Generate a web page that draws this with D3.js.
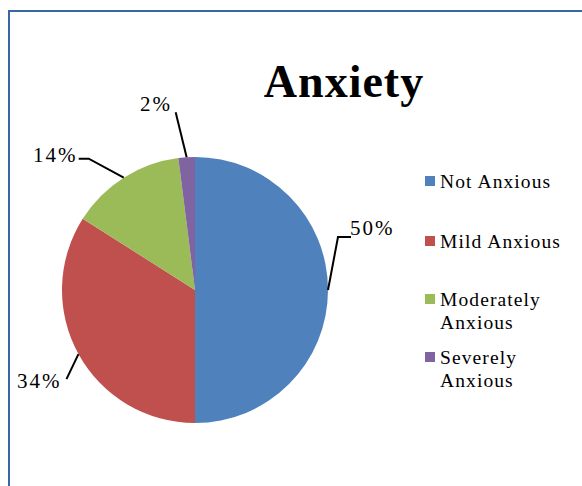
<!DOCTYPE html>
<html><head><meta charset="utf-8">
<script src="https://cdn.jsdelivr.net/npm/d3@7"></script>
<style>body{margin:0;background:#fff}svg{display:block}</style>
</head><body>
<script>
const categories = ["Not Anxious", "Mild Anxious", "Moderately Anxious", "Severely Anxious"];
const values = [50, 34, 14, 2];
const labels = ["50%", "34%", "14%", "2%"];
const colors = ["#4f81bd", "#c0504d", "#9bbb59", "#8064a2"];
const legendLines = [["Not Anxious"], ["Mild Anxious"], ["Moderately", "Anxious"], ["Severely", "Anxious"]];

const FONT = "'Liberation Serif', 'Times New Roman', serif";
const W = 582, H = 486;
const svg = d3.select("body").append("svg").attr("width", W).attr("height", H);
svg.append("rect").attr("x", 9).attr("y", 11).attr("width", 600).attr("height", 500)
  .attr("fill", "#fff").attr("stroke", "#3a67a3").attr("stroke-width", 2);

svg.append("text").attr("x", 344).attr("y", 97).attr("text-anchor", "middle")
  .attr("font-family", FONT).attr("font-weight", "bold").attr("font-size", 46)
  .attr("letter-spacing", 1)
  .text("Anxiety");

const cx = 195, cy = 290, r = 133;
const pie = d3.pie().sort(null).value(d => d)(values);
const arc = d3.arc().innerRadius(0).outerRadius(r);
const g = svg.append("g").attr("transform", `translate(${cx},${cy})`);
g.selectAll("path").data(pie).join("path").attr("d", arc).attr("fill", (d, i) => colors[i]);

const labelPos = [
  {tx: 350, ty: 235, pts: [[0, 0], [10, -53], [23, -53]]},
  {tx: 17, ty: 388, pts: [[0, 0], [-12, 25]]},
  {tx: 33, ty: 162, pts: [[0, 0], [-35, -19], [-45, -19]]},
  {tx: 140, ty: 111, pts: [[0, 0], [-11, -45]]}
];
pie.forEach((d, i) => {
  const a = (d.startAngle + d.endAngle) / 2;
  const ex = cx + Math.sin(a) * r, ey = cy - Math.cos(a) * r;
  const p = labelPos[i].pts.map(([dx, dy]) => [ex + dx, ey + dy]);
  svg.append("path").attr("d", d3.line()(p)).attr("fill", "none").attr("stroke", "#000").attr("stroke-width", 2);
  svg.append("text").attr("x", labelPos[i].tx).attr("y", labelPos[i].ty)
    .attr("font-family", FONT).attr("font-size", 21).attr("letter-spacing", 2).text(labels[i]);
});

const legY = [181, 241, 299, 357];
legendLines.forEach((lines, i) => {
  svg.append("rect").attr("x", 425).attr("y", legY[i] - 5).attr("width", 10).attr("height", 10).attr("fill", colors[i]);
  lines.forEach((t, j) => {
    svg.append("text").attr("x", 440).attr("y", legY[i] + 7 + j * 23)
      .attr("font-family", FONT).attr("font-size", 19.5).attr("letter-spacing", 1.1).text(t);
  });
});
</script>
</body></html>
